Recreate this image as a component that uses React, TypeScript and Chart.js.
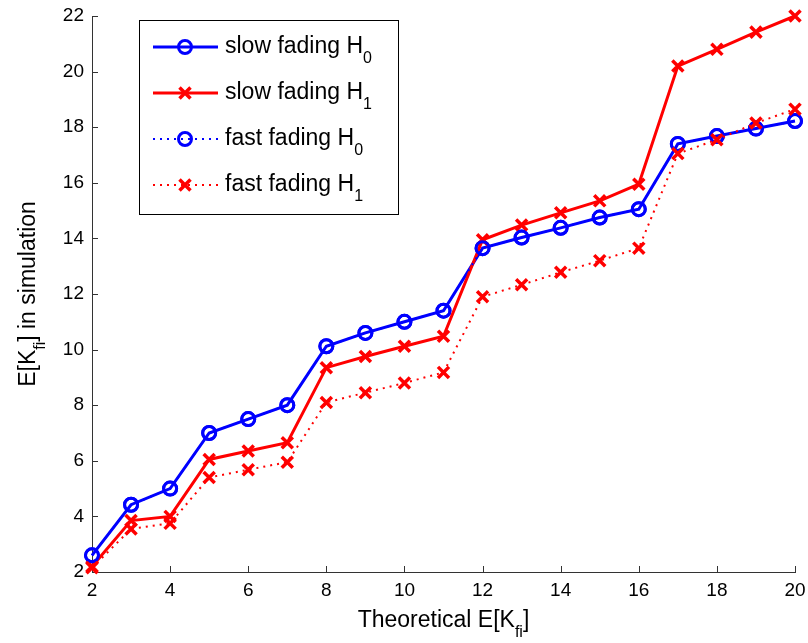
import React, { useEffect, useRef } from "react";
import { Chart, registerables } from "chart.js";
Chart.register(...registerables);

const xValues = [2, 3, 4, 5, 6, 7, 8, 9, 10, 11, 12, 13, 14, 15, 16, 17, 18, 19, 20];
const slowH0 = [2.6, 4.42, 5.0, 7.0, 7.5, 8.0, 10.12, 10.6, 11.0, 11.4, 13.65, 14.03, 14.38, 14.75, 15.05, 17.4, 17.68, 17.95, 18.22];
const slowH1 = [2.2, 3.85, 4.0, 6.05, 6.35, 6.65, 9.35, 9.75, 10.12, 10.48, 13.95, 14.48, 14.92, 15.35, 15.95, 20.2, 20.8, 21.42, 22.0];
const fastH0 = [2.6, 4.42, 5.0, 7.0, 7.5, 8.0, 10.12, 10.6, 11.0, 11.4, 13.65, 14.03, 14.38, 14.75, 15.05, 17.4, 17.68, 17.95, 18.22];
const fastH1 = [2.15, 3.55, 3.75, 5.4, 5.68, 5.95, 8.1, 8.45, 8.8, 9.18, 11.9, 12.33, 12.78, 13.2, 13.65, 17.05, 17.55, 18.15, 18.65];
const xTicks = [2, 4, 6, 8, 10, 12, 14, 16, 18, 20];
const yTicks = [2, 4, 6, 8, 10, 12, 14, 16, 18, 20, 22];
const legendLabels = [
  ["slow fading H", "0"],
  ["slow fading H", "1"],
  ["fast fading H", "0"],
  ["fast fading H", "1"],
];
const xTitle = [["Theoretical E[K", false], ["fi", true], ["]", false]] as [string, boolean][];
const yTitle = [["E[K", false], ["fi", true], ["] in simulation", false]] as [string, boolean][];

const FONT = '"Liberation Sans", Arial, Helvetica, sans-serif';
const BLUE = "#0000ff";
const RED = "#ff0000";

function drawRich(ctx: CanvasRenderingContext2D, parts: [string, boolean][], x: number, y: number, mainSize: number, subSize: number, subDy: number, align: "left" | "center") {
  const mainF = `${mainSize}px ${FONT}`;
  const subF = `${subSize}px ${FONT}`;
  let total = 0;
  const widths = parts.map(([t, s]) => {
    ctx.font = s ? subF : mainF;
    const w = ctx.measureText(t).width;
    total += w;
    return w;
  });
  let cx = align === "center" ? x - total / 2 : x;
  ctx.textAlign = "left";
  ctx.textBaseline = "alphabetic";
  parts.forEach(([t, s], i) => {
    ctx.font = s ? subF : mainF;
    ctx.fillText(t, cx, s ? y + subDy : y);
    cx += widths[i];
  });
}

const styles = [
  { color: BLUE, dash: [] as number[], width: 3, point: "circle" },
  { color: RED, dash: [] as number[], width: 3, point: "crossRot" },
  { color: BLUE, dash: [2, 5], width: 2, point: "circle" },
  { color: RED, dash: [2, 5], width: 2, point: "crossRot" },
];

function drawMarker(ctx: CanvasRenderingContext2D, style: string, color: string, x: number, y: number) {
  ctx.save();
  ctx.setLineDash([]);
  ctx.strokeStyle = color;
  ctx.beginPath();
  if (style === "circle") {
    ctx.lineWidth = 3;
    ctx.arc(x, y, 6.5, 0, Math.PI * 2);
  } else {
    ctx.lineWidth = 3.5;
    const d = 5.5;
    ctx.moveTo(x - d, y - d);
    ctx.lineTo(x + d, y + d);
    ctx.moveTo(x + d, y - d);
    ctx.lineTo(x - d, y + d);
  }
  ctx.stroke();
  ctx.restore();
}

const decorPlugin = {
  id: "decor",
  beforeDatasetsDraw(chart: any) {
    const { ctx, chartArea, scales } = chart;
    ctx.save();
    ctx.strokeStyle = "#333333";
    ctx.lineWidth = 1;
    ctx.beginPath();
    xTicks.forEach((v) => {
      const px = Math.round(scales.x.getPixelForValue(v)) + 0.5;
      ctx.moveTo(px, chartArea.bottom);
      ctx.lineTo(px, chartArea.bottom - 6);
    });
    yTicks.forEach((v) => {
      const py = Math.round(scales.y.getPixelForValue(v)) + 0.5;
      ctx.moveTo(chartArea.left, py);
      ctx.lineTo(chartArea.left + 6, py);
    });
    ctx.stroke();
    ctx.restore();
  },
  afterDraw(chart: any) {
    const { ctx, chartArea } = chart;
    ctx.save();
    ctx.fillStyle = "#000";
    drawRich(ctx, xTitle, (chartArea.left + chartArea.right) / 2, 627, 23, 16, 10, "center");
    ctx.save();
    ctx.translate(35, (chartArea.top + chartArea.bottom) / 2);
    ctx.rotate(-Math.PI / 2);
    drawRich(ctx, yTitle, 0, 0, 23, 16, 10, "center");
    ctx.restore();
    const bx = 139.5, by = 20.5, bw = 259, bh = 194;
    ctx.fillStyle = "#fff";
    ctx.fillRect(bx, by, bw, bh);
    ctx.strokeStyle = "#000";
    ctx.lineWidth = 1;
    ctx.strokeRect(bx, by, bw, bh);
    legendLabels.forEach((lab, i) => {
      const s = styles[i];
      const ry = 47 + i * 46;
      ctx.save();
      ctx.strokeStyle = s.color;
      ctx.lineWidth = s.width;
      ctx.setLineDash(s.dash);
      ctx.beginPath();
      ctx.moveTo(153, ry);
      ctx.lineTo(218, ry);
      ctx.stroke();
      ctx.restore();
      drawMarker(ctx, s.point, s.color, 185, ry);
      ctx.fillStyle = "#000";
      drawRich(ctx, [[lab[0], false], [lab[1], true]], 225, ry + 6, 23, 16, 10, "left");
    });
    ctx.restore();
  },
};

function mk(values: number[]) {
  return xValues.map((x, i) => ({ x, y: values[i] }));
}

export default function App() {
  const ref = useRef<HTMLCanvasElement>(null);
  useEffect(() => {
    if (!ref.current) return;
    const series = [slowH0, slowH1, fastH0, fastH1];
    const names = legendLabels.map((l) => l[0] + l[1]);
    const chart = new Chart(ref.current, {
      type: "scatter",
      data: {
        datasets: series.map((vals, i) => {
          const s = styles[i];
          return {
            label: names[i],
            data: mk(vals),
            showLine: true,
            borderColor: s.color,
            borderWidth: s.width,
            borderDash: s.dash,
            pointStyle: s.point as any,
            pointRadius: s.point === "circle" ? 6.5 : 7.8,
            pointBorderWidth: s.point === "circle" ? 3 : 3.5,
            pointBorderColor: s.color,
            pointBackgroundColor: "rgba(0,0,0,0)",
            clip: false as any,
            order: 4 - i,
            tension: 0,
          };
        }),
      },
      options: {
        responsive: false,
        animation: false,
        events: [],
        layout: { padding: { left: 0, top: 16, right: 13, bottom: 0 } },
        plugins: { legend: { display: false }, tooltip: { enabled: false } },
        scales: {
          x: {
            type: "linear",
            min: 2,
            max: 20,
            afterFit: (s: any) => { s.height = 71; s.paddingLeft = 0; s.paddingRight = 0; },
            afterBuildTicks: (s: any) => { s.ticks = xTicks.map((v) => ({ value: v })); },
            grid: { display: false, drawTicks: false },
            border: { display: true, color: "#333333", width: 1 },
            ticks: { color: "#000", font: { family: FONT, size: 19 }, padding: 7, maxRotation: 0 },
          },
          y: {
            type: "linear",
            min: 2,
            max: 22,
            afterFit: (s: any) => { s.width = 92; s.paddingTop = 0; s.paddingBottom = 0; },
            afterBuildTicks: (s: any) => { s.ticks = yTicks.map((v) => ({ value: v })); },
            grid: { display: false, drawTicks: false },
            border: { display: true, color: "#333333", width: 1 },
            ticks: { color: "#000", font: { family: FONT, size: 19 }, padding: 8 },
          },
        },
      },
      plugins: [decorPlugin],
    });
    return () => chart.destroy();
  }, []);
  return (
    <div style={{ position: "fixed", left: 0, top: 0, width: 808, height: 643, background: "#fff" }}>
      <canvas ref={ref} width={808} height={643} />
    </div>
  );
}
